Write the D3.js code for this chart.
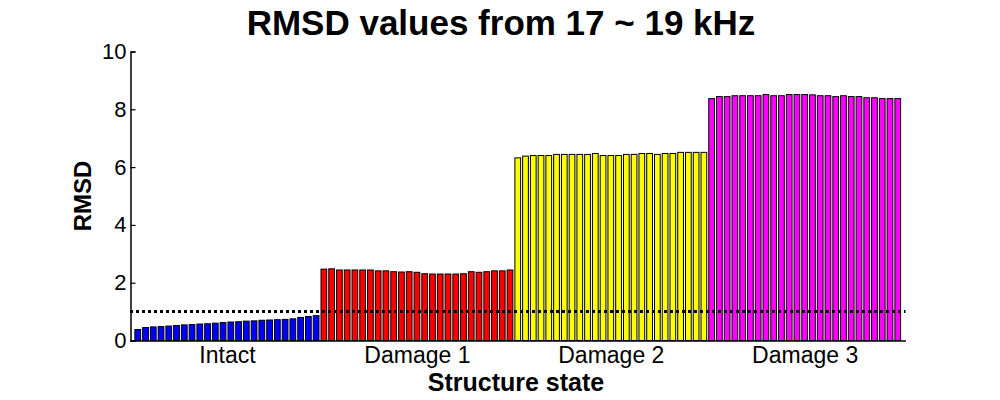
<!DOCTYPE html>
<html>
<head>
<meta charset="utf-8">
<script src="https://cdn.jsdelivr.net/npm/d3@7"></script>
<style>
  html, body { margin: 0; padding: 0; background: #fff; }
  svg { display: block; font-family: "Liberation Sans", Arial, sans-serif; }
</style>
</head>
<body>
<svg id="chart" width="1000" height="400"></svg>
<script>
const title = "RMSD values from 17 ~ 19 kHz";
const xLabel = "Structure state";
const yLabel = "RMSD";
const categories = ["Intact", "Damage 1", "Damage 2", "Damage 3"];
const colors = ["#0000ff", "#ff0000", "#ffff00", "#ff00ff"];
const yTicks = [0, 2, 4, 6, 8, 10];
const threshold = 1.0;

const intact = [0.38, 0.45, 0.47, 0.48, 0.50, 0.52, 0.54, 0.55, 0.57, 0.58, 0.60, 0.62,
                0.64, 0.65, 0.67, 0.68, 0.70, 0.71, 0.72, 0.73, 0.75, 0.80, 0.83, 0.86];
const damage1 = [2.47, 2.48, 2.44, 2.44, 2.44, 2.44, 2.44, 2.41, 2.41, 2.38, 2.37, 2.38, 2.36,
                 2.31, 2.30, 2.30, 2.30, 2.30, 2.31, 2.38, 2.36, 2.38, 2.41, 2.41, 2.44];
const damage2 = [6.32, 6.38, 6.40, 6.40, 6.40, 6.44, 6.44, 6.44, 6.44, 6.44, 6.47, 6.40, 6.40,
                 6.40, 6.44, 6.44, 6.47, 6.47, 6.44, 6.47, 6.47, 6.51, 6.51, 6.51, 6.51];
const damage3 = [8.37, 8.44, 8.44, 8.47, 8.47, 8.47, 8.47, 8.51, 8.47, 8.47, 8.51, 8.51, 8.51,
                 8.50, 8.47, 8.47, 8.44, 8.47, 8.44, 8.44, 8.40, 8.40, 8.37, 8.37, 8.37];

(function () {
const groups = [intact, damage1, damage2, damage3];
const bars = [];
const centers = [];
groups.forEach((g, gi) => {
  const start = bars.length + 1;
  g.forEach(v => bars.push({ idx: bars.length + 1, value: v, group: gi }));
  centers.push((start + bars.length) / 2);
});
const n = bars.length;

const svg = d3.select("#chart");
const mLeft = 130, mRight = 905.5, mTop = 51.5, mBottom = 340.5;

const x = d3.scaleLinear().domain([0, 100]).range([mLeft, mRight]);
const y = d3.scaleLinear().domain([0, 10]).range([mBottom, mTop]);
const step = x(2) - x(1);
const bw = step * 0.74;

// bars
svg.append("g").selectAll("rect").data(bars).join("rect")
  .attr("x", d => x(d.idx) - bw / 2)
  .attr("y", d => y(d.value))
  .attr("width", bw)
  .attr("height", d => y(0) - y(d.value))
  .attr("fill", d => colors[d.group])
  .attr("stroke", "#000")
  .attr("stroke-width", 1);

// threshold line
svg.append("line")
  .attr("x1", x(0)).attr("x2", x(100))
  .attr("y1", y(threshold)).attr("y2", y(threshold))
  .attr("stroke", "#000").attr("stroke-width", 3)
  .attr("stroke-dasharray", "3,3");

// y axis
const yAxis = d3.axisLeft(y).tickValues(yTicks).tickSize(-5).tickPadding(4).tickFormat(d3.format("d"));
const gy = svg.append("g").attr("transform", `translate(${mLeft + 0.5},0)`).call(yAxis);
gy.select(".domain").attr("stroke", "#000").attr("stroke-width", 1.5);
gy.selectAll(".tick line").attr("stroke", "#000").attr("stroke-width", 1.2);
gy.selectAll(".tick text").attr("font-size", 22).attr("fill", "#000")
  .attr("font-family", "Liberation Sans, Arial, sans-serif");

// x axis
const xAxis = d3.axisBottom(x).tickValues(centers).tickSize(0).tickPadding(6)
  .tickFormat((d, i) => categories[i]);
const gx = svg.append("g").attr("transform", `translate(0,${mBottom})`).call(xAxis);
gx.select(".domain").attr("stroke", "#000").attr("stroke-width", 1.5);
gx.selectAll(".tick text").attr("font-size", 23).attr("fill", "#000")
  .attr("font-family", "Liberation Sans, Arial, sans-serif");

// title
svg.append("text").attr("x", 501).attr("y", 35)
  .attr("text-anchor", "middle").attr("font-size", 35).attr("font-weight", "bold")
  .text(title);

// x label
svg.append("text").attr("x", 516).attr("y", 391)
  .attr("text-anchor", "middle").attr("font-size", 25).attr("font-weight", "bold")
  .text(xLabel);

// y label
svg.append("text").attr("transform", `translate(91,196) rotate(-90)`)
  .attr("text-anchor", "middle").attr("font-size", 24).attr("font-weight", "bold")
  .text(yLabel);
})();
</script>
</body>
</html>
